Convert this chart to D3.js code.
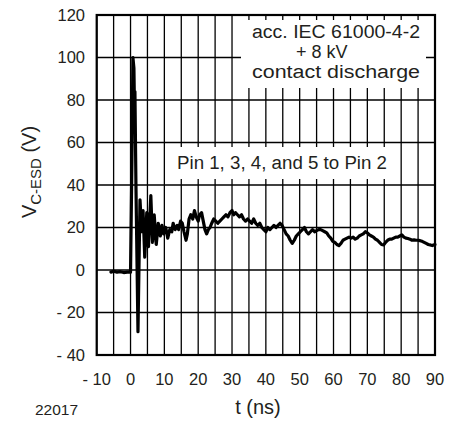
<!DOCTYPE html>
<html lang="en">
<head>
  <meta charset="UTF-8">
  <title>ESD clamping voltage</title>
  <script src="https://d3js.org/d3.v7.min.js"></script>
  <style>
    body {
      margin: 0;
      background: #fff;
      font-family: "Liberation Sans", Arial, sans-serif;
    }
    text {
      fill: #231f20;
    }
    .grid line {
      stroke: #000;
      stroke-width: 1.3;
    }
    .tick-label {
      font-size: 16.5px;
    }
    .note {
      font-size: 18px;
    }
  </style>
</head>
<body>
  <svg width="451" height="423"></svg>

  <script>
    // time axis (ns) and the traced voltage (V)
    const timeNs = [
      -5.8, -5, -4, -3, -2, -1, 0, 0.4, 0.7, 1.0, 1.1, 1.3, 1.6, 2.2,
      2.8, 3.3, 3.7, 4.2, 4.8, 5.3, 6.0, 6.5, 7.0, 7.6, 8.2, 8.8, 9.3, 9.8,
      10.4, 11, 11.6, 12.2, 12.6, 13.2, 13.8, 14.2, 14.8, 15.3, 15.8, 16.4, 16.8,
      17.3, 17.8, 18.4, 18.9, 19.4, 20, 20.4, 21, 21.5, 22, 22.5, 23, 23.5, 24,
      24.6, 25.2, 25.8, 26.4, 27, 27.6, 28.2, 28.8, 29.4, 30, 30.5, 31, 31.6,
      32.2, 32.8, 33.4, 34, 34.6, 35.2, 35.8, 36.4, 37, 37.6, 38.2, 38.8, 39.4,
      40, 40.6, 41.2, 41.8, 42.4, 43, 43.6, 44.2, 44.8, 45.4, 46, 46.6, 47.2,
      47.8, 48.4, 49, 49.6, 50.2, 50.8, 51.4, 52, 52.6, 53.2, 53.8, 54.4, 55,
      55.6, 56.2, 56.8, 57.4, 58, 58.6, 59.2, 59.8, 60.4, 61, 61.6, 62.2, 62.8,
      63.4, 64, 64.6, 65.2, 65.8, 66.4, 67, 67.6, 68.2, 68.8, 69.4, 70, 70.6,
      71.2, 71.8, 72.4, 73, 73.6, 74.2, 74.8, 75.4, 76, 76.6, 77.2, 77.8, 78.4,
      79, 79.6, 80.2, 80.8, 81.4, 82, 82.6, 83.2, 83.8, 84.4, 85, 85.6, 86.2,
      86.8, 87.4, 88, 88.6, 89.2, 90
    ];
    const voltage = [
      -1, -0.6, -1, -0.8, -1.2, -1, -1, 50, 100, 95, 84, 84, 40, -29,
      33, 18, 28, 6, 27, 11, 35, 13, 26, 12, 22, 16, 21, 17,
      20, 15, 19, 18, 22, 19, 21, 19, 23, 22, 18, 14, 17,
      24, 26, 24, 28, 25, 23, 26, 27, 23, 19, 17, 19, 20, 22,
      24, 23, 22, 23, 24, 25, 26, 25, 27, 28, 26, 27, 26,
      25, 26, 24, 23, 24, 23, 22, 24, 22, 21, 22, 20, 19,
      18, 20, 19, 20, 21, 20, 21, 22, 21, 19, 17, 16, 14,
      12.5, 14, 16, 17, 18, 19, 20, 18, 17, 18, 19, 18, 18.5,
      19, 19, 18.5, 18, 17.5, 16, 15, 13.5, 13, 12, 11.5, 12.5, 14,
      14.5, 15, 15.5, 15, 15.5, 14.5, 15, 16, 16.5, 17, 18, 17.5, 16.5,
      16, 15.5, 14.5, 14, 13, 12, 11.8, 13, 14, 14.5, 14.5, 15, 15.5,
      15.5, 16, 16.5, 15.5, 15, 14.8, 14.5, 14, 14.2, 14, 14, 13.8, 13.5,
      13, 12.5, 12, 11.8, 11.5, 12
    ];

    const xTicks = [-10, 0, 10, 20, 30, 40, 50, 60, 70, 80, 90];
    const yTicks = [-40, -20, 0, 20, 40, 60, 80, 100, 120];
    const xGrid = d3.range(-10, 91, 5);

    const noteLines = ["acc. IEC 61000-4-2", "+ 8 kV", "contact discharge"];
    const pinNote = "Pin 1, 3, 4, and 5 to Pin 2";

    const svg = d3.select("svg");
    const plot = {left: 96.7, right: 435, top: 15, bottom: 355};

    const x = d3.scaleLinear().domain([-10, 90]).range([plot.left, plot.right]);
    const y = d3.scaleLinear().domain([-40, 120]).range([plot.bottom, plot.top]);

    const fmt = d => d < 0 ? "- " + Math.abs(d) : String(d);

    // grid
    const grid = svg.append("g").attr("class", "grid");
    grid.selectAll("line.v")
      .data(xGrid)
      .enter().append("line")
        .attr("class", "v")
        .attr("x1", d => x(d)).attr("x2", d => x(d))
        .attr("y1", plot.top).attr("y2", plot.bottom);
    grid.selectAll("line.h")
      .data(yTicks)
      .enter().append("line")
        .attr("class", "h")
        .attr("x1", plot.left).attr("x2", plot.right)
        .attr("y1", d => y(d)).attr("y2", d => y(d));

    // white boxes behind the notes hide the grid
    svg.append("rect")
      .attr("x", 241).attr("y", 20)
      .attr("width", 185).attr("height", 68)
      .attr("fill", "#fff");
    svg.append("rect")
      .attr("x", 174).attr("y", 147)
      .attr("width", 222).attr("height", 32)
      .attr("fill", "#fff");

    // trace
    const line = d3.line()
      .x((d, i) => x(timeNs[i]))
      .y(d => y(d));
    svg.append("path")
      .datum(voltage)
      .attr("d", line)
      .attr("fill", "none")
      .attr("stroke", "#000")
      .attr("stroke-width", 3.2)
      .attr("stroke-linejoin", "round")
      .attr("stroke-linecap", "round");

    // frame
    svg.append("rect")
      .attr("x", plot.left).attr("y", plot.top)
      .attr("width", plot.right - plot.left)
      .attr("height", plot.bottom - plot.top)
      .attr("fill", "none")
      .attr("stroke", "#000")
      .attr("stroke-width", 2.2);

    // tick labels
    svg.selectAll("text.ylab")
      .data(yTicks)
      .enter().append("text")
        .attr("class", "tick-label")
        .attr("x", 85)
        .attr("y", d => y(d))
        .attr("dy", "0.36em")
        .attr("text-anchor", "end")
        .text(fmt);

    svg.selectAll("text.xlab")
      .data(xTicks)
      .enter().append("text")
        .attr("class", "tick-label")
        .attr("x", d => x(d))
        .attr("y", 385)
        .attr("text-anchor", "middle")
        .text(fmt);

    // notes, stretched to the widths seen in the original (middle line left as is)
    const noteWidths = [168, null, 168];
    const notes = svg.selectAll("text.note")
      .data(noteLines)
      .enter().append("text")
        .attr("class", "note")
        .attr("x", (d, i) => i === 1 ? 296 : 252)
        .attr("y", (d, i) => 38 + i * 20)
        .text(d => d);
    notes.filter((d, i) => noteWidths[i])
      .attr("textLength", (d, i) => 168)
      .attr("lengthAdjust", "spacingAndGlyphs");

    svg.append("text")
      .attr("class", "note")
      .attr("x", 177)
      .attr("y", 169)
      .attr("textLength", 210)
      .attr("lengthAdjust", "spacingAndGlyphs")
      .text(pinNote);

    // axis titles
    svg.append("text")
      .attr("x", 258)
      .attr("y", 414)
      .attr("text-anchor", "middle")
      .style("font-size", "20px")
      .text("t (ns)");

    svg.append("text")
      .attr("x", 35)
      .attr("y", 415)
      .style("font-size", "15.5px")
      .text("22017");

    const yTitle = svg.append("text")
      .attr("transform", "translate(36,172) rotate(-90)")
      .attr("text-anchor", "middle")
      .style("font-size", "20px");
    yTitle.append("tspan").text("V");
    yTitle.append("tspan").attr("dy", 5).style("font-size", "15px").text("C-ESD");
    yTitle.append("tspan").attr("dy", -5).text(" (V)");
  </script>
</body>
</html>
